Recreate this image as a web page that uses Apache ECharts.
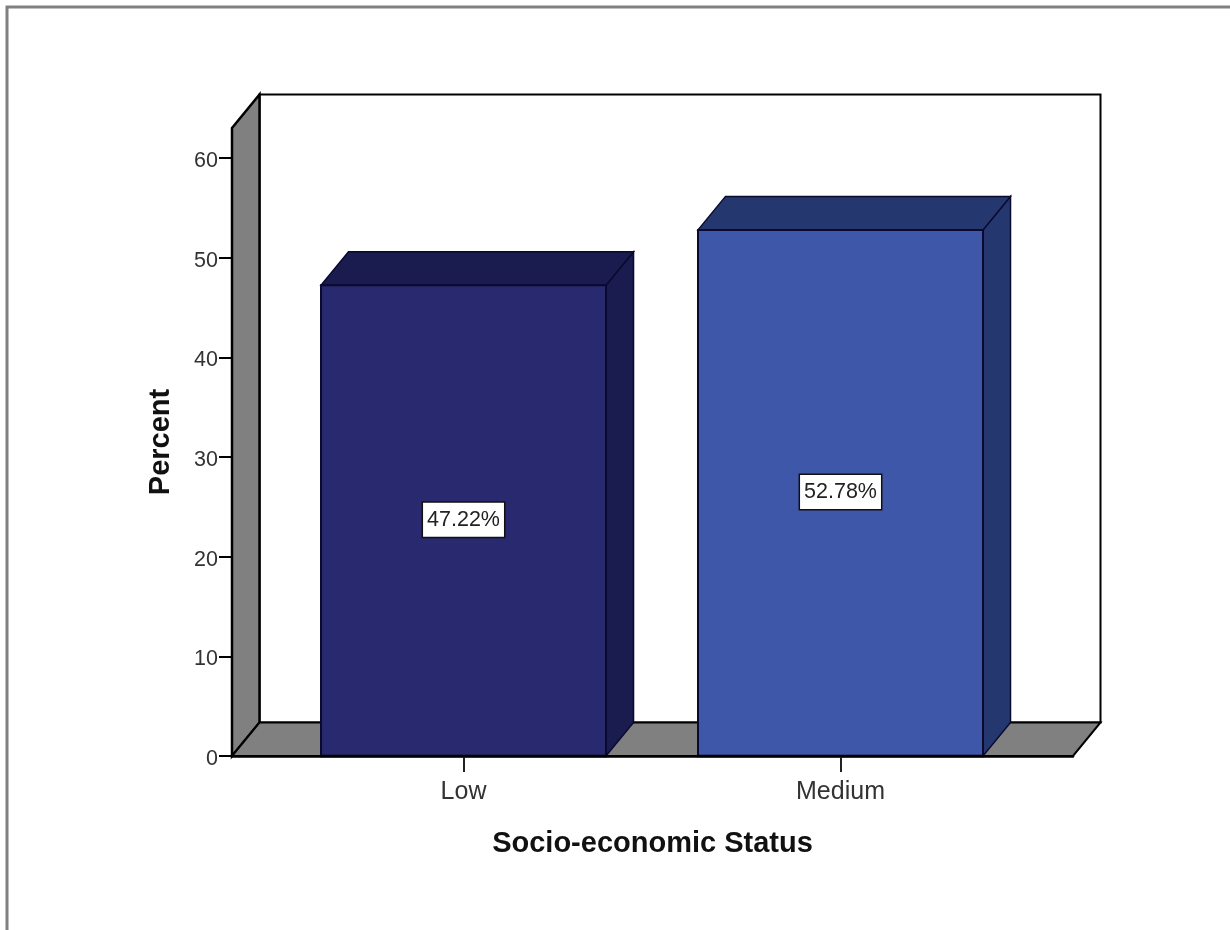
<!DOCTYPE html>
<html>
<head>
<meta charset="utf-8">
<style>html,body{margin:0;padding:0;background:#fff}#chart{width:1230px;height:930px}</style>
<script src="https://cdn.jsdelivr.net/npm/echarts@6/dist/echarts.min.js"></script>
</head>
<body>
<div id="chart"></div>
<script>
const categories = ['Low', 'Medium'];
const percentValues = [47.22, 52.78];
const yTicks = [0, 10, 20, 30, 40, 50, 60];
const categoryPositions = [0, 1];
const xTitle = 'Socio-economic Status';
const yTitle = 'Percent';

const frontColors = ['#29296f', '#3e57a9'];
const sideColors = ['#1a1b4f', '#24376f'];
const topColors = ['#1a1b4f', '#24376f'];
const X_MIN = -0.6141, X_MAX = 1.6167, Y_MAX = 63;
const BAR_HALF = 0.378, DX = 27.5, DY = 33.5;
const FONT = '"Liberation Sans", Arial, sans-serif';

function poly(points, fill, stroke, lw) {
  return { type: 'polygon', shape: { points }, style: { fill, stroke, lineWidth: lw, lineJoin: 'miter' } };
}

function renderWalls(params, api) {
  const bl = api.coord([X_MIN, 0]), tl = api.coord([X_MIN, Y_MAX]), br = api.coord([X_MAX, 0]);
  const bl2 = [bl[0] + DX, bl[1] - DY], tl2 = [tl[0] + DX, tl[1] - DY], br2 = [br[0] + DX, br[1] - DY];
  const tr2 = [br2[0], tl2[1]];
  return {
    type: 'group',
    children: [
      poly([tl2, tr2, br2, bl2], '#ffffff', '#000', 2),
      poly([tl, tl2, bl2, bl], '#808080', '#000', 2.5),
      poly([bl, bl2, br2, br], '#808080', '#000', 2)
    ]
  };
}

function renderBar(params, api) {
  const i = api.value(0), v = api.value(1);
  const a = api.coord([i - BAR_HALF, v]), b = api.coord([i + BAR_HALF, 0]);
  const m = api.coord([i, v / 2]);
  const stroke = '#0a0a30';
  return {
    type: 'group',
    children: [
      poly([[b[0], a[1]], [b[0] + DX, a[1] - DY], [b[0] + DX, b[1] - DY], [b[0], b[1]]], sideColors[i], stroke, 1.5),
      poly([[a[0], a[1]], [a[0] + DX, a[1] - DY], [b[0] + DX, a[1] - DY], [b[0], a[1]]], topColors[i], stroke, 1.5),
      { type: 'rect', shape: { x: a[0], y: a[1], width: b[0] - a[0], height: b[1] - a[1] },
        style: { fill: frontColors[i], stroke: stroke, lineWidth: 2 } },
      { type: 'line', shape: { x1: a[0] - 1, y1: b[1], x2: b[0] + 1, y2: b[1] }, style: { stroke: '#000', lineWidth: 2.5 } },
      { type: 'text', x: m[0], y: m[1] - 1,
        style: { text: v.toFixed(2) + '%', align: 'center', verticalAlign: 'middle', fill: '#222',
          font: '21.5px ' + FONT, backgroundColor: '#fff', borderColor: '#111', borderWidth: 1.5, padding: [6, 4, 6, 4] } }
    ]
  };
}

const chart = echarts.init(document.getElementById('chart'), null, { renderer: 'canvas' });
chart.setOption({
  animation: false,
  backgroundColor: '#ffffff',
  graphic: [{ type: 'rect', silent: true, z: -1, shape: { x: 7, y: 7, width: 1500, height: 1500 },
    style: { fill: null, stroke: '#808080', lineWidth: 3 } }],
  grid: { left: 232, right: 157, top: 128, bottom: 174, containLabel: false },
  xAxis: {
    type: 'value', min: X_MIN, max: X_MAX, splitLine: { show: false },
    name: xTitle, nameLocation: 'middle', nameGap: 73,
    nameTextStyle: { fontFamily: FONT, fontSize: 29, fontWeight: 'bold', color: '#111' },
    axisLine: { show: true, lineStyle: { color: '#000', width: 2.5 } },
    axisTick: { show: true, length: 16, customValues: categoryPositions, lineStyle: { color: '#222', width: 2 } },
    axisLabel: { show: true, customValues: categoryPositions, margin: 24, formatter: v => categories[v],
      fontFamily: FONT, fontSize: 25, color: '#333' }
  },
  yAxis: {
    type: 'value', min: 0, max: Y_MAX, splitLine: { show: false },
    name: yTitle, nameLocation: 'middle', nameGap: 57, nameRotate: 90,
    nameTextStyle: { fontFamily: FONT, fontSize: 29, fontWeight: 'bold', color: '#111' },
    axisLine: { show: true, onZero: false, lineStyle: { color: '#000', width: 2.5 } },
    axisTick: { show: true, length: 13, customValues: yTicks, lineStyle: { color: '#000', width: 2 } },
    axisLabel: { show: true, customValues: yTicks, margin: 14, verticalAlign: 'top', lineHeight: 6, fontFamily: FONT, fontSize: 21.5, color: '#333' }
  },
  series: [
    { type: 'custom', name: 'walls', clip: false, silent: true, z: 1, renderItem: renderWalls, data: [[0, 0]] },
    { type: 'custom', name: 'Percent', clip: false, silent: true, z: 2, renderItem: renderBar,
      encode: { x: 0, y: 1 }, data: percentValues.map((v, i) => [categoryPositions[i], v]) }
  ]
});
</script>
</body>
</html>
